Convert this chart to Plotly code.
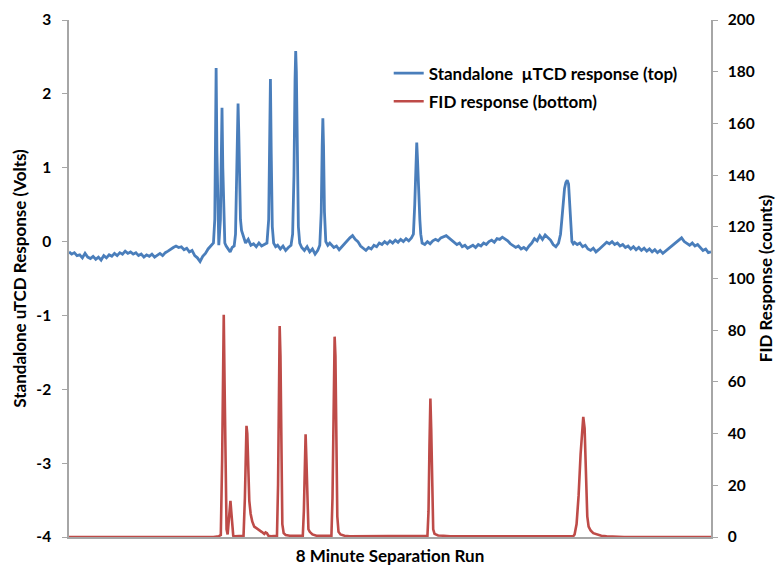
import plotly.graph_objects as go

# ---- data (time in seconds over the 8-minute run) ----
blue_t = [0, 2, 4, 6, 8, 10, 12, 14, 16, 18, 20, 22, 24, 26, 28, 30, 32, 34, 36, 38,
          40, 42, 44, 46, 48, 50, 52, 54, 56, 58, 60, 62, 64, 66, 68, 70, 72, 74, 76, 78,
          80, 82, 84, 86, 88, 90, 92, 94, 96, 98, 100, 102, 104, 106, 108,
          109, 109.5, 110.0, 110.6, 111.3, 112,
          113.2, 113.8, 114.4, 115.0, 115.7, 116.5, 117.5, 119, 120.5, 122, 123.5,
          124.5, 125.3, 125.9, 126.4, 126.9, 127.5, 128.2, 129, 130, 131, 132, 134, 136,
          138, 140, 142, 144, 146, 148, 149.3, 150, 150.6, 151.2, 152, 153, 154.5, 156,
          158, 160, 162, 164, 166, 167.2, 168.2, 169.0, 169.5, 170.0, 170.7, 171.5, 172.5,
          174, 176, 178, 180, 182, 184, 186, 187.5, 188.6, 189.3, 189.8, 190.3, 191, 192,
          193.5, 195, 196, 198, 200, 202, 204, 206, 208, 210, 212, 214, 216, 218, 220,
          222, 224, 226, 228, 230, 232, 234, 236, 238, 240, 242, 244, 246, 248, 250, 252,
          254, 256, 257.5, 258.5, 259.4, 260.0, 260.6, 261.5, 262.3, 263, 264,
          266, 268, 270, 272, 274, 276, 278, 280, 282, 284, 286, 288, 290, 292, 294, 296,
          298, 300, 302, 304, 306, 308, 310, 312, 314, 316, 318, 320, 322, 324, 326, 328,
          330, 332, 334, 336, 338, 340, 342, 344, 346, 348, 350, 352, 354, 356, 358, 360,
          362, 364, 366, 367.5, 368.5, 369.5, 370.5, 371.5, 372.5, 373.5, 374.3, 375, 376,
          377, 378, 380, 382, 384, 386, 388, 390, 392, 394, 396, 398, 400, 402, 404, 406,
          408, 410, 412, 414, 416, 418, 420, 422, 424, 426, 428, 430, 432, 434, 436, 438,
          440, 442, 444, 446, 448, 450, 452, 454, 456, 458, 460, 462, 464, 466, 468, 470,
          472, 474, 476, 478, 480]
blue_v = [-0.14, -0.17, -0.15, -0.19, -0.18, -0.22, -0.16, -0.21, -0.23, -0.20, -0.24, -0.21,
          -0.25, -0.19, -0.22, -0.18, -0.20, -0.16, -0.19, -0.15, -0.17, -0.13, -0.16, -0.14,
          -0.17, -0.15, -0.19, -0.17, -0.21, -0.18, -0.20, -0.17, -0.21, -0.18, -0.16, -0.19,
          -0.15, -0.13, -0.10, -0.08, -0.06, -0.08, -0.07, -0.11, -0.09, -0.14, -0.12, -0.19,
          -0.22, -0.27, -0.20, -0.16, -0.10, -0.06, -0.02,
          0.3, 1.2, 2.35, 1.2, 0.3, -0.05,
          0.3, 1.0, 1.81, 1.0, 0.25, -0.02, -0.06, -0.10, -0.14, -0.08, -0.06,
          0.1, 0.8, 1.75, 1.87, 1.5, 0.7, 0.3, 0.15, 0.08, 0.05, -0.02, 0.03, -0.05,
          -0.03, -0.07, -0.02, -0.06, -0.04, -0.02, 0.3, 1.3, 2.20, 1.2, 0.2, -0.02, -0.07, -0.05,
          -0.10, -0.06, -0.12, -0.08, -0.05, 0.1, 0.9, 2.2, 2.58, 2.3, 1.0, 0.2, -0.02,
          -0.08, -0.12, -0.07, -0.14, -0.10, -0.17, -0.12, -0.05, 0.4, 1.3, 1.67, 1.3, 0.4, 0.0,
          -0.05, -0.02, -0.04, -0.08, -0.06, -0.11, -0.07, -0.03, 0.02, 0.05, 0.08, 0.03, 0.0, -0.06, -0.09,
          -0.12, -0.08, -0.10, -0.05, -0.07, -0.02, -0.04, 0.0, -0.03, 0.01, -0.02, 0.02, -0.01, 0.03, 0.0, 0.04,
          0.01, 0.05, 0.1, 0.5, 1.2, 1.34, 1.1, 0.55, 0.3, 0.1, -0.02,
          -0.04, 0.0, -0.03, 0.01, 0.03, 0.01, 0.05, 0.07, 0.08, 0.05, 0.02, -0.01, -0.04, -0.02, -0.07, -0.05,
          -0.09, -0.07, -0.05, -0.08, -0.04, -0.06, -0.02, -0.04, 0.0, 0.02, -0.01, 0.04, 0.03, 0.06, 0.04, 0.01,
          -0.03, -0.05, -0.08, -0.06, -0.10, -0.08, -0.11, -0.06, -0.02, 0.04, 0.01, 0.08, 0.03, 0.09, 0.05, 0.02,
          -0.04, -0.07, -0.02, 0.1, 0.3, 0.55, 0.72, 0.8, 0.83, 0.78, 0.5, 0.2, 0.0,
          -0.03, -0.01, -0.04, -0.02, -0.07, -0.05, -0.10, -0.12, -0.09, -0.14, -0.11, -0.08, -0.04, -0.01, -0.03, 0.0,
          -0.04, -0.02, -0.06, -0.04, -0.08, -0.06, -0.10, -0.07, -0.11, -0.08, -0.12, -0.09, -0.13, -0.10, -0.14, -0.11,
          -0.15, -0.12, -0.16, -0.13, -0.10, -0.07, -0.04, -0.02, 0.02, 0.05, 0.0, -0.03, -0.05, -0.02, -0.06, -0.04,
          -0.08, -0.12, -0.10, -0.15, -0.14]

red_t = [0, 108, 112, 113.5, 114.5, 115.2, 115.7, 116.3, 117, 117.8, 118.6, 119.5, 120.3,
         120.7, 121.3, 122, 122.8, 124, 130.5, 131.5, 132.2, 132.7, 133.3, 134, 134.8,
         135.8, 137, 138.5, 140, 142, 144, 146, 147, 148, 149, 151, 155.5, 156.3, 157,
         157.5, 158.1, 158.8, 159.5, 160.5, 162, 165, 174.8, 175.6, 176.3, 176.9, 177.5,
         178.2, 179, 180, 182, 185, 196.2, 197, 197.8, 198.6, 199.2, 199.9, 200.6, 201.5,
         203, 206, 210, 268, 268.8, 269.5, 270.2, 270.8, 271.5, 272.3, 273.3, 276, 280,
         285, 377, 378, 379.5, 381, 382.5, 383.5, 384.5, 385.5, 386.5, 387.5, 388.5, 390,
         392, 395, 398, 402, 415, 480]
red_v = [0, 0, 0.3, 0.8, 30, 70, 86, 60, 20, 3, 1, 6, 13,
         14, 10, 3, 0.5, 0.3, 0.5, 15, 35, 43, 40, 30, 14,
         9, 6, 4, 3.5, 3, 2, 1.2, 1.8, 1.5, 0.5, 0.3, 0.5, 20, 65,
         81.6, 70, 30, 5, 1.5, 0.8, 0.5, 0.5, 10, 30, 39.7, 30,
         10, 3, 2, 1, 0.5, 0.5, 15, 55, 77.5, 70, 35, 8, 2,
         1, 0.5, 0.3, 0.5, 10, 35, 53.6, 42, 15, 3, 1.2, 0.6, 0.5,
         0.3, 0.3, 1, 5, 16, 32, 40, 46.5, 42, 25, 8, 4, 2.5,
         1.5, 1, 0.5, 0.3, 0, 0]

left_ticks = [-4, -3, -2, -1, 0, 1, 2, 3]
left_labels = ["-4", "-3", "-2", "-1", "0", "1", "2", "3"]
right_ticks = [0, 20, 40, 60, 80, 100, 120, 140, 160, 180, 200]
right_labels = ["0", "20", "40", "60", "80", "100", "120", "140", "160", "180", "200"]

BLUE = "#4A7EBB"
RED = "#BE4B48"
AXIS = "#A6A6A6"
FONT = "Lato"

fig = go.Figure()
fig.add_trace(go.Scatter(x=blue_t, y=blue_v, mode="lines", name="Standalone  \u00b5TCD response (top)",
                         legendgroup="a", line=dict(color=BLUE, width=2.8)))
fig.add_trace(go.Scatter(x=red_t, y=red_v, mode="lines", name="FID response (bottom)",
                         legendgroup="b", line=dict(color=RED, width=2.6), yaxis="y2"))

tickfont = dict(family=FONT, size=15.5, color="black", weight="bold")
titlefont = dict(family=FONT, size=17, color="black", weight="bold")
fig.update_layout(
    width=780, height=566,
    margin=dict(l=69, r=69, t=20, b=29),
    paper_bgcolor="white", plot_bgcolor="white",
    showlegend=True,
    legend=dict(x=0.498, y=0.931, xanchor="left", yanchor="top", traceorder="grouped",
                bgcolor="rgba(0,0,0,0)", font=dict(family=FONT, size=17, color="black", weight="bold"),
                tracegroupgap=3, itemwidth=30),
    xaxis=dict(range=[0, 480], showticklabels=False, ticks="", showgrid=False, zeroline=False,
               showline=True, linecolor=AXIS, linewidth=1.5, automargin=False,
               title=dict(text="8 Minute Separation Run", standoff=13, font=titlefont)),
    yaxis=dict(range=[-4, 3], tickvals=left_ticks, ticktext=left_labels, ticks="outside",
               ticklen=5, tickcolor=AXIS,
               showgrid=False, zeroline=False, showline=True, linecolor=AXIS, linewidth=1.5,
               tickfont=tickfont, ticklabelstandoff=8, automargin=False,
               title=dict(text="Standalone uTCD Response (Volts)", standoff=5, font=titlefont)),
    yaxis2=dict(range=[0, 200], tickvals=right_ticks, ticktext=right_labels, overlaying="y",
                side="right", ticks="outside", ticklen=5, tickcolor=AXIS, showgrid=False,
                zeroline=False, showline=True, linecolor=AXIS, linewidth=1.5, tickfont=tickfont,
                ticklabelstandoff=7, automargin=False,
                title=dict(text="FID Response (counts)", standoff=1, font=titlefont)),
)

fig.write_html("out.html", config={"displayModeBar": False},
               post_script="document.body.style.margin='0';")
